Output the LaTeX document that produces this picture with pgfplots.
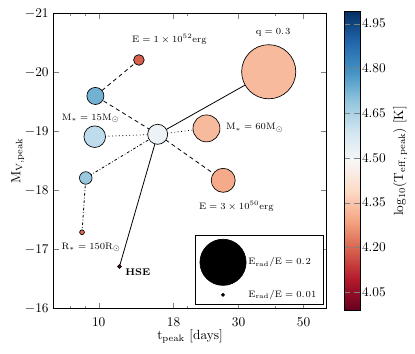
\documentclass[border=0pt]{standalone}
\usepackage{pgfplots}
\usepackage{pgfplotstable}
\pgfplotsset{compat=1.18}

\newcommand{\annot}{\fontsize{7.3}{9}\selectfont}

% t_peak [days], M_V,peak, log10 T_eff,peak, marker radius [pt]
\pgfplotstableread{
t      M       T     r
13.71  -20.21  4.19  4.0
9.74   -19.60  4.73  6.4
9.69   -18.91  4.62  8.1
15.89  -18.95  4.52  7.5
9.03   -18.21  4.68  4.7
8.77   -17.29  4.21  1.8
11.77  -16.71  4.01  1.4
38.04  -20.01  4.33  20.3
23.32  -19.05  4.33  10.1
26.60  -18.17  4.30  9.0
}\models

\begin{document}
\begin{tikzpicture}
\begin{axis}[
  name=main,
  scale only axis,
  width=205pt, height=221.25pt,
  xmode=log, log basis x=10,
  xmin=7, xmax=60,
  xtick={10,18,30,50}, xticklabels={10,18,30,50},
  minor xtick={8,9,20,40},
  ymin=-21, ymax=-16, y dir=reverse,
  ytick={-21,-20,-19,-18,-17,-16},
  xticklabel style={yshift=-3.5pt},
  xlabel={$\mathrm{t_{peak}}$ [days]},
  ylabel={$\mathrm{M_{V,peak}}$},
  xlabel style={at={(axis description cs:0.5,-0.094)}, anchor=center},
  ylabel style={at={(axis description cs:-0.13,0.5)}, anchor=center},
  tick align=inside,
  major tick length=4pt, minor tick length=2pt,
  axis line style={line width=0.5pt},
  colormap={rdbu}{rgb255=(103,0,31) rgb255=(178,24,43) rgb255=(214,96,77)
    rgb255=(244,165,130) rgb255=(253,219,199) rgb255=(247,247,247)
    rgb255=(209,229,240) rgb255=(146,197,222) rgb255=(67,147,195)
    rgb255=(33,102,172) rgb255=(5,48,97)},
  point meta min=3.99, point meta max=4.99,
  colorbar,
  colorbar shift/.style={xshift=13pt},
  colorbar style={
    width=12pt, height=223.7pt,
    at={(parent axis.north east)}, anchor=north west,
    yshift=1.2pt,
    ytick={4.05,4.20,4.35,4.50,4.65,4.80,4.95},
    yticklabel style={inner xsep=1.3pt,
      /pgf/number format/.cd,fixed,fixed zerofill,precision=2},
    ylabel={$\mathrm{log_{10}(T_{eff,\,peak})}$ [K]},
    ylabel style={at={(axis description cs:3.5,0.5)}, anchor=center},
  },
  legend style={draw=black, line width=0.5pt, font=\annot,
    at={(axis description cs:0.9876,0.0113)}, anchor=south east,
    inner xsep=3.5pt, inner ysep=2.5pt, row sep=2pt, column sep=0pt,
    nodes={inner sep=1.5pt}},
  legend cell align=left,
]
\addplot[scatter, only marks, mark=*, forget plot,
  point meta=explicit,
  scatter/use mapped color={draw=black, fill=mapped color},
  mark options={line width=0.5pt},
  visualization depends on={\thisrow{r} \as \rad},
  scatter/@pre marker code/.append style={/tikz/mark size=\rad}]
  table[x=t, y=M, meta=T] {\models};

% energy sequence
\addplot[black, line width=0.6pt, dash pattern=on 3pt off 2.5pt, forget plot]
  coordinates {(13.71,-20.21) (9.74,-19.60) (15.89,-18.95) (26.60,-18.17)};
% mass sequence
\addplot[black, line width=0.6pt, dotted, forget plot]
  coordinates {(9.69,-18.91) (15.89,-18.95) (23.32,-19.05)};
% radius sequence
\addplot[black, line width=0.6pt, dash pattern=on 2pt off 1.5pt on 0.5pt off 1.5pt, forget plot]
  coordinates {(8.77,-17.29) (9.03,-18.21) (15.89,-18.95)};
% HSE and q
\addplot[black, line width=0.6pt, forget plot]
  coordinates {(11.77,-16.71) (15.89,-18.95) (38.04,-20.01)};

\node[font=\annot] at (axis cs:17.44,-20.56) {$\mathrm{E=1\times10^{52}erg}$};
\node[font=\annot] at (axis cs:39.4,-20.68) {$\mathrm{q=0.\mkern1.5mu3}$};
\node[font=\annot] at (axis cs:9.39,-19.22) {$\mathrm{M_*=15M_\odot}$};
\node[font=\annot, anchor=west] at (axis cs:26.2,-19.06) {$\mathrm{M_*=60M_\odot}$};
\node[font=\annot] at (axis cs:29.5,-17.73) {$\mathrm{E=3\times10^{50}erg}$};
\node[font=\annot] at (axis cs:9.43,-17.03) {$\mathrm{R_*=150R_\odot}$};
\node[font=\annot] at (axis cs:13.6,-16.62) {\textbf{HSE}};

\addlegendimage{legend image code/.code={\fill[black] (0pt,0pt) circle[radius=17.3pt];}}
\addlegendentry{$\mathrm{E_{rad}/E=0.\mkern1.5mu2}$}
\addlegendimage{legend image code/.code={\fill[black] (0pt,0pt) circle[radius=1.1pt];
  \path[draw=none,fill=none] (-17.3pt,0pt) -- (17.3pt,0pt);}}
\addlegendentry{$\mathrm{E_{rad}/E=0.\mkern1.5mu01}$}
\end{axis}
\pgfresetboundingbox
\path ([shift={(-40pt,-33.5pt)}]main.south west) rectangle ([shift={(66.2pt,10pt)}]main.north east);
\end{tikzpicture}
\end{document}
